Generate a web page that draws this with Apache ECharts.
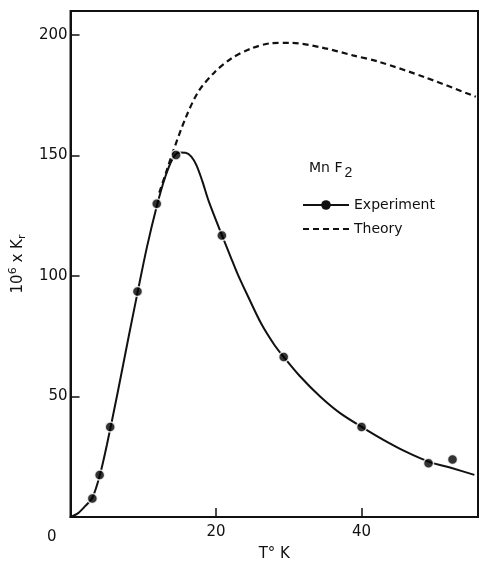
<!DOCTYPE html>
<html>
<head>
<meta charset="utf-8">
<script src="https://cdn.jsdelivr.net/npm/echarts@6/dist/echarts.min.js"></script>
<style>html,body{margin:0;padding:0;background:#fff}#c{width:482px;height:567px}</style>
</head>
<body>
<div id="c"></div>
<script>
// Data: [T (K), 10^6 x Kr]
const experimentPoints = [[3.0,7.7],[4.0,17.4],[5.45,37.4],[9.2,93.6],[11.85,130],[14.5,150.2],[20.8,116.8],[29.3,66.4],[40.0,37.4],[49.2,22.3],[52.5,23.9]];
const experimentCurve = [[0,0],[1,1.5],[2,4.5],[3,8],[4,17],[5,30],[6.5,52],[8,75],[9.2,93],[10.5,112],[11.85,129],[13,141],[14,148.5],[14.9,151.3],[15.8,151.2],[16.6,149.6],[17.3,146],[18.1,139.5],[19,131],[20.8,117],[22,108],[23,100.6],[24.4,91.5],[26.2,80.3],[28,71.5],[29.3,66.4],[31.5,58.5],[34.3,50],[37,43.2],[40,37.4],[43,32],[46,27.2],[49.2,23],[52.5,20.2],[55.5,17.5]];
const theoryCurve = [[12.2,134.6],[13.1,142.7],[14.0,150.9],[15.8,165.5],[17.6,176.7],[19.9,184.9],[22.1,190.3],[24.8,194.4],[27.5,196.6],[30.2,196.8],[34.3,195],[38.8,191.6],[42.4,188.9],[48.7,182.5],[55.7,174.4]];
const xTicks = [0,20,40];
const yTicks = [0,50,100,150,200];

const FONT = 'DejaVu Sans';
const chart = echarts.init(document.getElementById('c'), null, {renderer:'canvas'});
chart.setOption({
  backgroundColor:'#fff',
  animation:false,
  textStyle:{fontFamily:FONT,color:'#111'},
  grid:{left:63,right:4,top:11,bottom:40,show:true,borderColor:'#111',borderWidth:2,backgroundColor:'transparent'},
  xAxis:{
    type:'value',min:0,max:56,interval:20,
    axisLine:{lineStyle:{color:'#111',width:2}},
    axisTick:{inside:true,length:9,lineStyle:{color:'#111',width:1.5}},
    splitLine:{show:false},
    axisLabel:{showMinLabel:false,showMaxLabel:false,color:'#111',fontSize:15,margin:8,fontFamily:FONT,
      formatter:v=>xTicks.includes(v)?String(v):''},
    name:'T° K',nameLocation:'middle',nameGap:30,
    nameTextStyle:{fontSize:15,color:'#111',fontFamily:FONT}
  },
  yAxis:{
    type:'value',min:0,max:210,interval:50,
    axisLine:{lineStyle:{color:'#111',width:2}},
    axisTick:{inside:true,length:9,lineStyle:{color:'#111',width:1.5}},
    splitLine:{show:false},
    axisLabel:{showMinLabel:false,showMaxLabel:false,color:'#111',fontSize:15,margin:3,fontFamily:FONT,
      formatter:v=>yTicks.includes(v)?String(v):''},
    name:'10{sup|6} x K{sub|r}',nameLocation:'middle',nameRotate:90,nameGap:27,
    nameTextStyle:{fontSize:15,color:'#111',fontFamily:FONT,
      rich:{sup:{fontSize:11,verticalAlign:'top',lineHeight:20,padding:[0,0,8,0]},sub:{fontSize:11,verticalAlign:'bottom',padding:[6,0,0,0]}}}
  },
  legend:{
    data:['Experiment',{name:'Theory',itemStyle:{opacity:0}}],orient:'vertical',left:297,top:193,
    itemWidth:46,itemHeight:12,itemGap:10,
    textStyle:{fontSize:14,color:'#111',fontFamily:FONT}
  },
  graphic:[
    {type:'text',left:309,top:161,style:{text:'Mn F{s|2}',font:'14px "DejaVu Sans"',fill:'#111',
      rich:{s:{fontSize:14,padding:[11,0,0,2],fill:'#111'}}}},
    {type:'text',left:47,top:530,style:{text:'0',font:'15px "DejaVu Sans"',fill:'#111'}}
  ],
  series:[
    {name:'Experiment',type:'line',data:experimentCurve,smooth:0.3,
      showSymbol:false,symbol:'circle',symbolSize:9,
      lineStyle:{color:'#111',width:2},itemStyle:{color:'#111'},z:2},
    {name:'Theory',type:'line',data:theoryCurve,smooth:0.3,symbol:'none',
      lineStyle:{color:'#111',width:2.2,type:[6,4]},itemStyle:{color:'#111'},z:1},
    {name:'points',type:'scatter',data:experimentPoints,symbol:'circle',symbolSize:10,
      itemStyle:{color:'#000',borderColor:'#fff',borderWidth:1.5},z:3}
  ]
});
</script>
</body>
</html>
